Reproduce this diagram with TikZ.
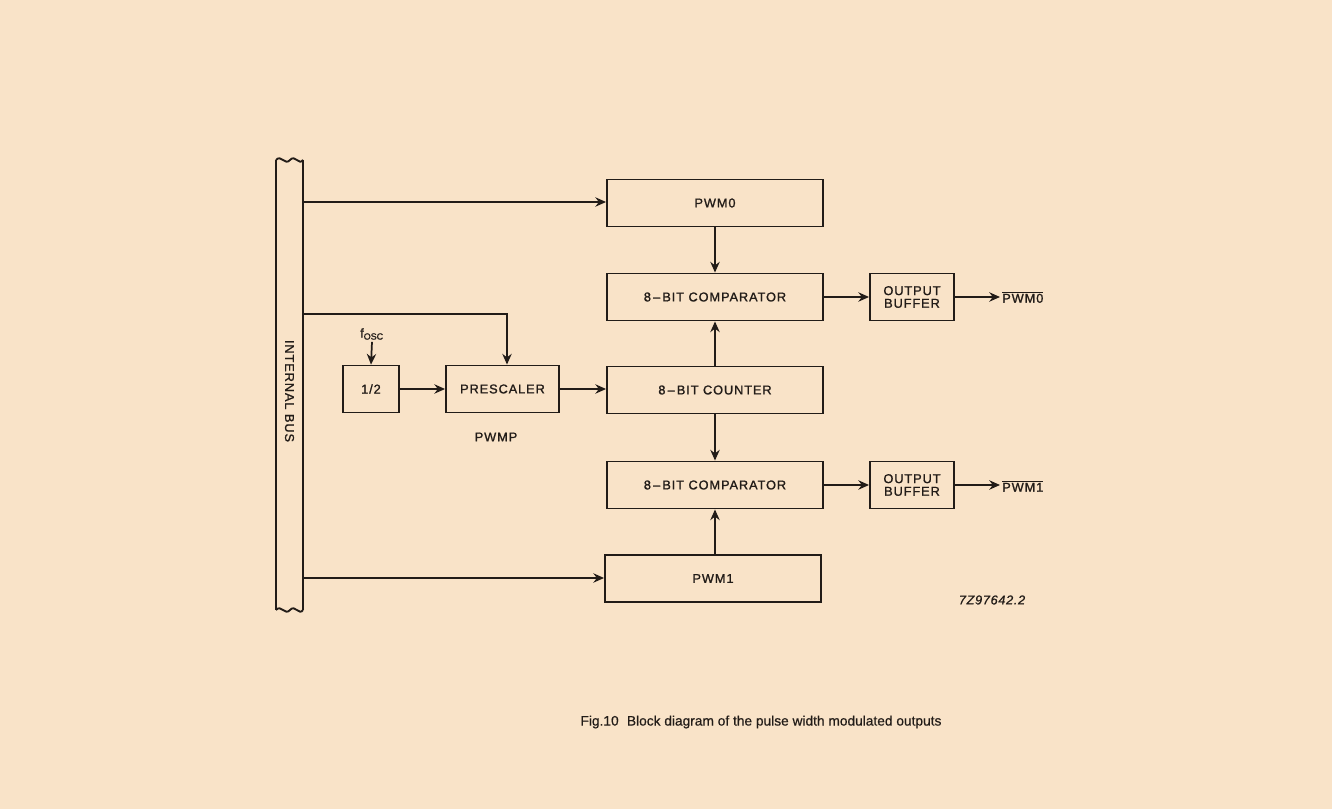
\documentclass[tikz,border=0pt]{standalone}
\usepackage{fontspec}
\setmainfont{Liberation Sans}
\usetikzlibrary{arrows.meta}
\definecolor{paper}{HTML}{F9E3C8}
\definecolor{ink}{HTML}{221C18}
\newcommand{\boxfont}{\fontsize{9.6}{10.5}\selectfont\addfontfeatures{LetterSpace=7,FakeBold=1.2}}
\begin{document}
\begin{tikzpicture}[x=0.75pt,y=-0.75pt,
  line width=1.4pt, draw=ink, text=ink,
  blk/.style={draw=ink, line width=1.4pt, rectangle, inner sep=0pt, minimum height=35.25pt, font=\boxfont},
  wide/.style={blk, minimum width=162pt},
  conn/.style={draw=ink, line width=1.3pt, -{Stealth[length=8pt,width=7pt]}},
  lbl/.style={font=\boxfont, inner sep=1pt}]
\fill[paper] (0,0) rectangle (1332,809);
\useasboundingbox (0,0) rectangle (1332,809);
% internal bus
\draw (276,160) .. controls (281,154) and (285,166) .. (290,160) .. controls (295,154) and (299,166) .. (303,160);
\draw (276,610) .. controls (281,604) and (285,616) .. (290,610) .. controls (295,604) and (299,616) .. (303,610);
\draw (276,160) -- (276,610);
\draw (303,160) -- (303,610);
\node[lbl, rotate=-90] (bus) at (289.5,391) {INTERNAL BUS};
\coordinate (b0) at (303,202);
\coordinate (b1) at (303,314);
\coordinate (b2) at (303,578);
% blocks
\node[wide] (pwm0) at (715,203) {PWM0};
\node[wide] (cmp0) at (715,297) {8\,–\,BIT COMPARATOR};
\node[wide] (cnt) at (715,390) {8\,–\,BIT COUNTER};
\node[wide] (cmp1) at (715,485) {8\,–\,BIT COMPARATOR};
\node[wide] (pwm1) at (713,578.5) {PWM1};
\node[blk, minimum width=42pt] (half) at (371,389) {1/2};
\node[blk, minimum width=84.75pt] (pre) at (502.5,389) {PRESCALER};
\node[lbl] (pwmp) at (496,437) {PWMP};
\node[font=\fontsize{9.6}{10}\selectfont\addfontfeatures{FakeBold=1.2}, inner sep=1pt] (fosc) at (372,334) {f\textsubscript{OSC}};
\node[blk, minimum width=63pt, align=center, font=\fontsize{9.6}{9.5}\selectfont\addfontfeatures{LetterSpace=7,FakeBold=1.2}] (ob0) at (912,297) {OUTPUT\\BUFFER};
\node[blk, minimum width=63pt, align=center, font=\fontsize{9.6}{9.5}\selectfont\addfontfeatures{LetterSpace=7,FakeBold=1.2}] (ob1) at (912,485) {OUTPUT\\BUFFER};
\node[lbl, anchor=west] (out0) at (1000,297) {$\overline{\mbox{PWM0}}$};
\node[lbl, anchor=west] (out1) at (1000,486) {$\overline{\mbox{PWM1}}$};
\node[font=\fontsize{9.6}{10}\selectfont\itshape\addfontfeatures{LetterSpace=5,FakeBold=1}, inner sep=0pt] (code) at (992,600) {7Z97642.2};
\node[font=\fontsize{10.3}{12}\selectfont\addfontfeatures{FakeBold=0.6}, inner sep=0pt] (cap) at (761,722) {Fig.10\hspace{0.6em}Block diagram of the pulse width modulated outputs};
% connectors
\draw[conn] (b0) -- (b0 -| pwm0.west);
\draw[conn] (b2) -- (b2 -| pwm1.west);
\draw[conn] (b1) -| (pre.north -| 507,0);
\draw[conn] (fosc.south) -- (half.north);
\draw[conn] (half.east) -- (pre.west);
\draw[conn] (pre.east) -- (pre.east -| cnt.west);
\draw[conn] (pwm0.south) -- (cmp0.north);
\draw[conn] (cnt.north) -- (cmp0.south);
\draw[conn] (cnt.south) -- (cmp1.north);
\draw[conn] (pwm1.north -| cmp1.south) -- (cmp1.south);
\draw[conn] (cmp0.east) -- (ob0.west);
\draw[conn] (cmp1.east) -- (ob1.west);
\draw[conn] (ob0.east) -- (ob0.east -| out0.west);
\draw[conn] (ob1.east) -- (ob1.east -| out1.west);
\end{tikzpicture}
\end{document}
